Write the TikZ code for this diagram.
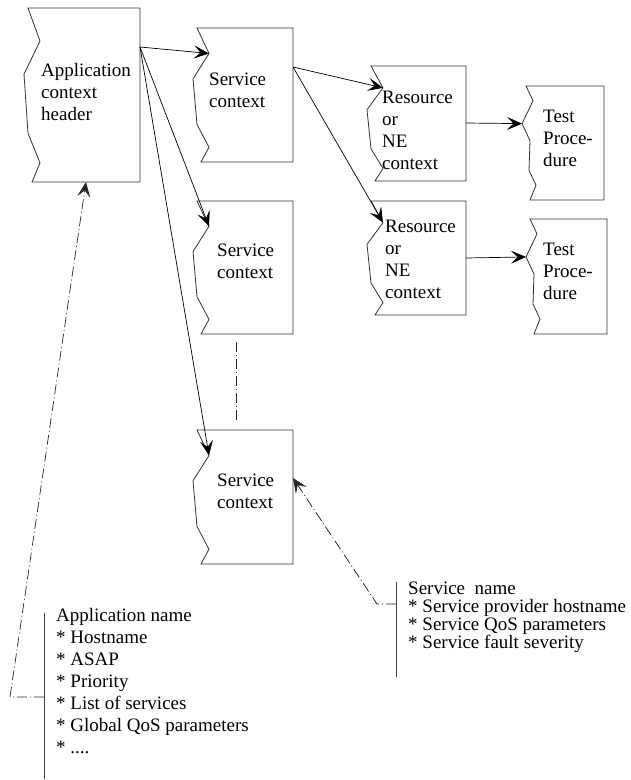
\documentclass[tikz,border=0pt]{standalone}
\usepackage{fontspec}
\setmainfont{Liberation Serif}
\usetikzlibrary{arrows.meta,calc}

\tikzset{
  edge/.style={line width=0.8pt, draw=black!80},
  tip/.style={-{Stealth[length=15pt,width=13pt,inset=6.5pt]}},
  conn/.style={line width=0.7pt, draw=black, tip},
  dashdot/.style={line width=0.7pt, draw=black!85, dash pattern=on 10pt off 3pt on 1pt off 3pt},
  bar/.style={line width=0.8pt, draw=black!75},
  lbl/.style={font=\fontsize{19}{22}\selectfont, align=left, inner sep=0pt, anchor=base west},
  frame/.style={draw=none, inner sep=0pt, outer sep=0pt, anchor=north west},
}

% box with a torn left edge: name, left x, top y, width, height
\newcommand\tornbox[5]{%
  \node[frame, minimum width=#4pt, minimum height=#5pt] (#1) at (#2,#3) {};
  \coordinate (#1-in) at ($(#1.north west)!0.19!(#1.south west)+(12pt,0)$);
  \draw[edge] ([xshift=4pt]#1.south west) -- (#1.south east) -- (#1.north east) -- (#1.north west)
    -- (#1-in)
    -- ($(#1.north west)!0.38!(#1.south west)+(-4pt,0)$)
    -- ($(#1.north west)!0.72!(#1.south west)$)
    -- ($(#1.north west)!0.89!(#1.south west)+(12pt,0)$)
    -- cycle;
}

% narrower box with a different tear, notch a third of the way down
\newcommand\tornboxb[5]{%
  \node[frame, minimum width=#4pt, minimum height=#5pt] (#1) at (#2,#3) {};
  \coordinate (#1-in) at ($(#1.north west)!0.33!(#1.south west)+(-4pt,0)$);
  \draw[edge] ([xshift=4pt]#1.south west) -- (#1.south east) -- (#1.north east) -- (#1.north west)
    -- ($(#1.north west)!0.13!(#1.south west)+(7pt,0)$)
    -- (#1-in)
    -- ($(#1.north west)!0.48!(#1.south west)+(4pt,0)$)
    -- ($(#1.north west)!0.74!(#1.south west)+(3pt,0)$)
    -- ($(#1.north west)!0.87!(#1.south west)+(10pt,0)$)
    -- cycle;
}

\begin{document}
\begin{tikzpicture}[x=1pt,y=-1pt]
\useasboundingbox (0,0) rectangle (631,780);

% context boxes
\tornbox{app}{28}{8}{112}{174}
\tornbox{svcA}{197}{28}{96}{134}
\tornbox{svcB}{197}{201}{96}{133}
\tornbox{svcC}{197}{430}{96}{134}
\tornbox{resA}{371}{66}{95}{115}
\tornbox{resB}{371}{201}{95}{114}
\tornboxb{testA}{526}{86}{78}{114}
\tornboxb{testB}{530}{219}{77}{115}

% box texts (positioned by the baseline of their last line)
\node[lbl] (app-t) at (41,120) {Application\\context\\header};
\node[lbl] (svcA-t) at (209,107) {Service\\context};
\node[lbl] (svcB-t) at (217,278) {Service\\context};
\node[lbl] (svcC-t) at (217,508) {Service\\context};
\node[lbl] (resA-t) at (382,169) {Resource\\or\\NE\\context};
\node[lbl] (resB-t) at (385,298) {Resource\\or\\NE\\context};
\node[lbl] (testA-t) at (543,166) {Test\\Proce-\\dure};
\node[lbl] (testB-t) at (543,299) {Test\\Proce-\\dure};

% containment arrows
\coordinate (app-out) at ([yshift=-39pt]app.north east);
\coordinate (svcA-out) at ([yshift=-39pt]svcA.north east);
\draw[conn] (app-out) -- (svcA-in);
\draw[conn] (app-out) -- (svcB-in);
\draw[conn] (app-out) -- (svcC-in);
\draw[conn] (svcA-out) -- (resA-in);
\draw[conn] (svcA-out) -- (resB-in);
\draw[conn] ([yshift=-57pt]resA.north east) -- (testA-in);
\draw[conn] ([yshift=-57pt]resB.north east) -- (testB-in);

% further service contexts omitted
\draw[dashdot] ([xshift=-9pt,yshift=-8pt]svcB.south) -- ([xshift=-9pt,yshift=7pt]svcC.north);

% attribute lists
\node[lbl] (applist) at (56,753) {Application name\\* Hostname\\* ASAP\\* Priority\\* List of services\\* Global QoS parameters\\* ....};
\node[lbl, font=\fontsize{19}{18}\selectfont] (svclist) at (408,648) {Service\ \ name\\* Service provider hostname\\* Service QoS parameters\\* Service fault severity};

\coordinate (appbar-top) at (44,613);
\coordinate (appbar-bot) at (44,779);
\coordinate (appbar-tick) at (44,697);
\coordinate (appbend) at (10,697);
\draw[bar] (appbar-top) -- (appbar-bot);
\draw[dashdot, tip] (appbar-tick) -- (appbend) -- ([xshift=2pt]app.south);

\coordinate (svcbar-top) at (396,582);
\coordinate (svcbar-bot) at (396,677);
\coordinate (svcbar-tick) at (396,604);
\coordinate (svcbend) at (377,604);
\draw[bar] (svcbar-top) -- (svcbar-bot);
\draw[dashdot, tip] (svcbar-tick) -- (svcbend) -- ([yshift=-48pt]svcC.north east);
\end{tikzpicture}
\end{document}
